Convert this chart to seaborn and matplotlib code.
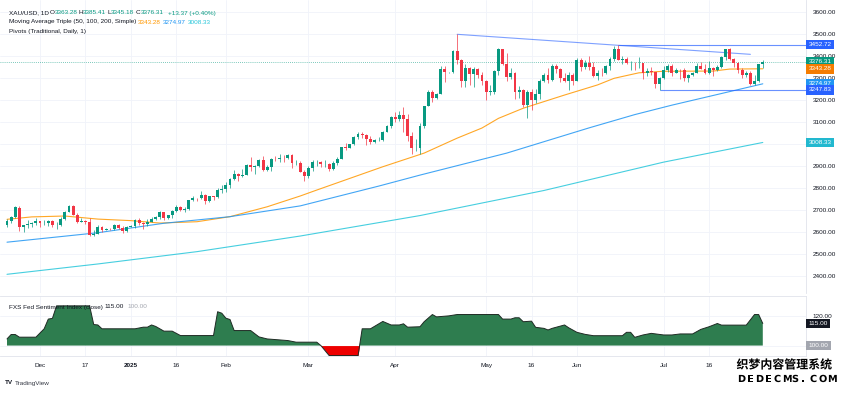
"""XAU/USD daily candles with MA triple, pivots and FXS Fed sentiment panel."""

import numpy as np
import pandas as pd
import matplotlib
matplotlib.use("Agg")
import matplotlib.pyplot as plt
import matplotlib.transforms as mtransforms
import matplotlib.patheffects as pe
import seaborn as sns

sns.set_theme(style="white")
plt.rcParams["font.family"] = ["Liberation Sans", "DejaVu Sans"]

GREEN = "#089981"
RED = "#f23645"
DARK = "#131722"
GRID = "#f0f3fa"
EDGE = "#e0e3eb"
C_MA50 = "#ff9800"
C_MA100 = "#2196f3"
C_MA200 = "#26c6da"
C_PIV = "#2962ff"

# ---- data ---------------------------------------------------------------
dates = pd.bdate_range("2024-11-20", "2025-08-04")

opens = [
    2631, 2650, 2670, 2712, 2625, 2632, 2637, 2640, 2650, 2640,
    2643, 2650, 2632, 2633, 2660, 2694, 2718, 2680, 2648, 2652,
    2646, 2587, 2594, 2622, 2612, 2617, 2614, 2634, 2621, 2606,
    2625, 2628, 2658, 2640, 2636, 2649, 2662, 2670, 2690, 2663,
    2677, 2697, 2714, 2703, 2708, 2745, 2755, 2754, 2770, 2741,
    2763, 2760, 2794, 2798, 2815, 2842, 2867, 2856, 2861, 2908,
    2898, 2903, 2928, 2882, 2898, 2935, 2933, 2939, 2936, 2952,
    2915, 2916, 2875, 2857, 2893, 2918, 2920, 2910, 2910, 2888,
    2916, 2934, 2988, 2984, 3001, 3034, 3048, 3044, 3022, 3011,
    3019, 3019, 3057, 3085, 3123, 3113, 3133, 3114, 3037, 2982,
    2983, 3082, 3175, 3237, 3210, 3229, 3343, 3327, 3327, 3424,
    3381, 3288, 3349, 3318, 3343, 3316, 3289, 3239, 3240, 3333,
    3431, 3365, 3306, 3325, 3236, 3248, 3178, 3240, 3202, 3230,
    3290, 3314, 3294, 3357, 3342, 3300, 3287, 3317, 3289, 3381,
    3353, 3371, 3352, 3310, 3325, 3322, 3355, 3386, 3432, 3384,
    3388, 3369, 3369, 3368, 3369, 3322, 3332, 3327, 3274, 3303,
    3338, 3357, 3326, 3337, 3336, 3301, 3313, 3325, 3355, 3343,
    3324, 3347, 3338, 3350, 3397, 3431, 3387, 3368, 3337, 3314,
    3326, 3274, 3289, 3363.28,
]
highs = [
    2660, 2674, 2721, 2721, 2633, 2657, 2647, 2665, 2651, 2658,
    2657, 2656, 2645, 2668, 2696, 2726, 2725, 2686, 2664, 2655,
    2664, 2611, 2631, 2630, 2621, 2620, 2638, 2637, 2630, 2628,
    2632, 2660, 2665, 2649, 2660, 2670, 2676, 2697, 2692, 2680,
    2700, 2725, 2721, 2713, 2746, 2763, 2757, 2786, 2772, 2765,
    2767, 2800, 2817, 2830, 2845, 2882, 2870, 2887, 2911, 2942,
    2905, 2935, 2945, 2905, 2938, 2947, 2955, 2950, 2956, 2956,
    2930, 2922, 2883, 2900, 2929, 2930, 2926, 2930, 2915, 2924,
    2940, 2990, 3005, 3003, 3038, 3056, 3057, 3047, 3036, 3025,
    3031, 3060, 3087, 3128, 3149, 3150, 3168, 3136, 3055, 3022,
    3099, 3176, 3245, 3245, 3232, 3357, 3357, 3330, 3430, 3500,
    3386, 3367, 3352, 3350, 3347, 3328, 3291, 3269, 3337, 3437,
    3434, 3415, 3346, 3328, 3265, 3252, 3245, 3253, 3250, 3295,
    3325, 3345, 3366, 3365, 3347, 3325, 3330, 3325, 3392, 3393,
    3384, 3403, 3376, 3340, 3349, 3360, 3398, 3446, 3452.72, 3403,
    3398, 3379, 3375, 3398, 3370, 3347, 3350, 3328, 3308, 3358,
    3365, 3366, 3345, 3343, 3345, 3318, 3330, 3369, 3375, 3366,
    3377, 3352, 3361, 3402, 3433, 3439, 3393, 3373, 3345, 3334,
    3334, 3315, 3364, 3385.41,
]
lows = [
    2625, 2640, 2664, 2605, 2602, 2620, 2625, 2634, 2622, 2632,
    2630, 2625, 2614, 2630, 2656, 2690, 2677, 2643, 2645, 2636,
    2583, 2583, 2590, 2602, 2609, 2612, 2612, 2614, 2597, 2603,
    2622, 2620, 2635, 2615, 2630, 2645, 2657, 2660, 2656, 2660,
    2667, 2692, 2697, 2692, 2700, 2742, 2740, 2750, 2730, 2738,
    2745, 2755, 2778, 2781, 2802, 2838, 2834, 2852, 2860, 2880,
    2864, 2898, 2880, 2880, 2880, 2922, 2921, 2918, 2931, 2890,
    2905, 2872, 2833, 2845, 2880, 2902, 2895, 2895, 2880, 2881,
    2905, 2931, 2973, 2982, 2997, 3023, 3027, 2999, 3001, 3005,
    3013, 3014, 3055, 3076, 3100, 3104, 3054, 3015, 2956, 2970,
    2957, 3072, 3174, 3194, 3205, 3228, 3283, 3323, 3325, 3366,
    3260, 3261, 3268, 3260, 3300, 3268, 3202, 3222, 3230, 3317,
    3360, 3288, 3298, 3207, 3210, 3170, 3120, 3154, 3188, 3205,
    3284, 3280, 3287, 3325, 3285, 3281, 3245, 3271, 3287, 3334,
    3343, 3337, 3306, 3294, 3310, 3318, 3340, 3380, 3383, 3366,
    3363, 3340, 3340, 3348, 3295, 3312, 3317, 3255, 3247.83, 3297,
    3327, 3311, 3322, 3297, 3287, 3282, 3310, 3323, 3341, 3320,
    3319, 3310, 3333, 3345, 3383, 3381, 3351, 3325, 3301, 3308,
    3268, 3268, 3281, 3345.18,
]
closes = [
    2650, 2670, 2715, 2625, 2632, 2637, 2640, 2650, 2640, 2643,
    2650, 2632, 2633, 2660, 2694, 2718, 2680, 2648, 2652, 2646,
    2587, 2594, 2622, 2612, 2617, 2614, 2634, 2621, 2606, 2625,
    2628, 2658, 2640, 2636, 2649, 2662, 2670, 2690, 2663, 2677,
    2697, 2714, 2703, 2708, 2745, 2755, 2754, 2770, 2741, 2763,
    2760, 2794, 2798, 2815, 2842, 2867, 2856, 2861, 2908, 2898,
    2903, 2928, 2882, 2898, 2935, 2933, 2939, 2936, 2952, 2915,
    2916, 2875, 2857, 2893, 2918, 2920, 2910, 2910, 2888, 2916,
    2934, 2988, 2984, 3001, 3034, 3048, 3044, 3022, 3011, 3019,
    3019, 3057, 3085, 3123, 3113, 3133, 3114, 3037, 2982, 2983,
    3082, 3175, 3237, 3210, 3229, 3343, 3327, 3327, 3424, 3381,
    3288, 3349, 3318, 3343, 3316, 3289, 3239, 3240, 3333, 3431,
    3365, 3306, 3325, 3236, 3248, 3178, 3240, 3202, 3230, 3290,
    3314, 3294, 3357, 3342, 3300, 3287, 3317, 3289, 3381, 3353,
    3371, 3352, 3310, 3325, 3322, 3355, 3386, 3432, 3384, 3388,
    3369, 3369, 3368, 3369, 3322, 3332, 3327, 3274, 3303, 3338,
    3357, 3326, 3337, 3336, 3301, 3313, 3325, 3355, 3343, 3324,
    3347, 3338, 3350, 3397, 3431, 3387, 3368, 3337, 3314, 3326,
    3274, 3289, 3363, 3376.31,
]

ma50_dates = ["2024-11-20", "2024-11-28", "2024-12-10", "2024-12-20", "2025-01-01",
              "2025-01-10", "2025-01-23", "2025-02-04", "2025-02-17", "2025-02-27",
              "2025-03-05", "2025-03-17", "2025-03-27", "2025-04-10", "2025-04-22",
              "2025-04-30", "2025-05-06", "2025-05-14", "2025-05-28", "2025-06-09",
              "2025-06-13", "2025-06-23", "2025-07-01", "2025-07-17", "2025-07-23",
              "2025-08-04"]
ma50_vals = [2659, 2670, 2674, 2660, 2653, 2642, 2648, 2671, 2716, 2765,
             2792, 2845, 2898, 2960, 3028, 3074, 3118, 3164, 3224, 3270,
             3300, 3325, 3332, 3333, 3342, 3343.28]

ma100_dates = ["2024-11-20", "2024-12-20", "2025-01-13", "2025-02-04", "2025-02-27",
               "2025-03-26", "2025-04-09", "2025-05-08", "2025-06-05", "2025-06-20",
               "2025-07-03", "2025-08-04"]
ma100_vals = [2555, 2598, 2641, 2671, 2720, 2810, 2860, 2960, 3075, 3135, 3178, 3274.97]

ma200_dates = ["2024-11-20", "2024-12-20", "2025-01-23", "2025-02-27", "2025-04-09",
               "2025-05-21", "2025-07-01", "2025-08-04"]
ma200_vals = [2409, 2456, 2512, 2583, 2676, 2790, 2919, 3008.33]

trend_dates = ["2025-04-22", "2025-07-30"]
trend_vals = [3500, 3409]
pivot_hi = 3452.72
pivot_hi_from = "2025-06-16"
pivot_lo = 3247.83
pivot_lo_from = "2025-06-30"
last_close = 3376.31

fed_dates = ["2024-11-20", "2024-11-21", "2024-11-22", "2024-11-25", "2024-11-29",
             "2024-12-03", "2024-12-04", "2024-12-05", "2024-12-06", "2024-12-18",
             "2024-12-19", "2024-12-20", "2024-12-23", "2025-01-02", "2025-01-06",
             "2025-01-07", "2025-01-08", "2025-01-09", "2025-01-13", "2025-01-15",
             "2025-01-17", "2025-01-29", "2025-01-30", "2025-01-31", "2025-02-03",
             "2025-02-04", "2025-02-05", "2025-02-11", "2025-02-13", "2025-02-17",
             "2025-02-24", "2025-02-26", "2025-03-05", "2025-03-06", "2025-03-10",
             "2025-03-19", "2025-03-20", "2025-03-24", "2025-03-27", "2025-03-31",
             "2025-04-02", "2025-04-03", "2025-04-04", "2025-04-09", "2025-04-10",
             "2025-04-14", "2025-04-15", "2025-04-18", "2025-04-22", "2025-05-06",
             "2025-05-07", "2025-05-09", "2025-05-12", "2025-05-13", "2025-05-14",
             "2025-05-16", "2025-05-19", "2025-05-21", "2025-05-22", "2025-05-23",
             "2025-05-28", "2025-05-29", "2025-06-02", "2025-06-04", "2025-06-06",
             "2025-06-17", "2025-06-18", "2025-06-19", "2025-06-20", "2025-06-24",
             "2025-06-26", "2025-07-01", "2025-07-03", "2025-07-07", "2025-07-10",
             "2025-07-14", "2025-07-16", "2025-07-18", "2025-07-21", "2025-07-29",
             "2025-07-31", "2025-08-01", "2025-08-04"]
fed_vals = [104.5, 107.5, 107.5, 105.7, 105.7,
            111.4, 118.0, 118.5, 127.0, 127.0,
            114.3, 114.0, 111.4, 111.4, 112.5,
            112.5, 114.0, 113.0, 109.8, 109.8,
            106.8, 106.8, 123.0, 122.0, 118.6,
            117.7, 110.2, 110.2, 105.9, 104.5,
            103.4, 102.3, 102.3, 100.0, 93.2,
            93.2, 111.4, 111.4, 116.4, 114.0,
            114.0, 114.8, 112.5, 112.8, 116.2,
            121.1, 119.5, 120.2, 121.1, 121.1,
            118.0, 118.0, 118.9, 118.9, 116.2,
            116.6, 112.4, 111.7, 110.6, 111.7,
            114.0, 112.1, 109.0, 107.6, 106.7,
            106.7, 109.0, 109.0, 105.6, 107.2,
            108.3, 107.2, 107.2, 107.9, 107.9,
            111.0, 112.8, 115.0, 113.9, 113.9,
            121.1, 121.1, 115.0]

tick_dates = ["2024-12-02", "2024-12-17", "2025-01-01", "2025-01-16", "2025-02-03",
              "2025-03-03", "2025-04-01", "2025-05-01", "2025-05-16", "2025-06-02",
              "2025-07-01", "2025-07-16"]
tick_labels = ["Dec", "17", "2025", "16", "Feb", "Mar", "Apr", "May", "16", "Jun", "Jul", "16"]
price_ticks = [2400, 2500, 2600, 2700, 2800, 2900, 3000, 3100, 3200, 3300, 3400, 3500, 3600]
hidden_ticks = [3000]   # covered by the MA200 price tag


def pos(ds):
    return np.array([dates.get_loc(pd.Timestamp(d)) for d in ds])


# ---- figure -------------------------------------------------------------
W, H = 844, 393
fig = plt.figure(figsize=(W / 100, H / 100), dpi=100)
fig.patch.set_facecolor("white")
ax = fig.add_axes([0, 1 - 293 / H, 806 / W, 293 / H])
axl = fig.add_axes([0, 1 - 356 / H, 806 / W, 60 / H], sharex=ax)

xs = np.arange(len(dates))
o, hi, lo, c = map(np.array, (opens, highs, lows, closes))
cols = np.where(c >= o, GREEN, RED)

ax.vlines(xs, lo, hi, colors=cols, lw=0.5, zorder=3)
body = np.where(np.abs(c - o) < 2, 2, c - o)
ax.bar(xs, body, bottom=o, width=0.7, color=cols, lw=0, zorder=4)

sns.lineplot(x=pos(ma50_dates), y=ma50_vals, ax=ax, color=C_MA50, lw=0.8, alpha=0.85, zorder=2)
sns.lineplot(x=pos(ma100_dates), y=ma100_vals, ax=ax, color=C_MA100, lw=0.8, alpha=0.85, zorder=2)
sns.lineplot(x=pos(ma200_dates), y=ma200_vals, ax=ax, color=C_MA200, lw=0.8, alpha=0.85, zorder=2)

ax.plot(pos(trend_dates), trend_vals, color=C_PIV, lw=0.8, alpha=0.6, zorder=2)
ax.hlines(pivot_hi, pos([pivot_hi_from])[0], 300, color=C_PIV, lw=0.8, alpha=0.7, zorder=2)
ax.hlines(pivot_lo, pos([pivot_lo_from])[0], 300, color=C_PIV, lw=0.8, alpha=0.7, zorder=2)
ax.axhline(last_close, color=GREEN, lw=0.6, ls=(0, (1, 1.5)), alpha=0.7, zorder=1)

x0, x1 = -7 / 4.13, (806 - 7) / 4.13
ax.set_xlim(x0, x1)
ax.set_ylim(2324, 3656)
ax.set_yticks(price_ticks)
ax.yaxis.tick_right()
ax.set_yticklabels(["" if t in hidden_ticks else f"{t:.2f}" for t in price_ticks])
ax.tick_params(axis="y", length=0, pad=5, labelsize=4.6, labelcolor=DARK)
ax.tick_params(axis="x", length=0, labelbottom=False)
ax.set_xticks(pos(tick_dates))
ax.grid(True, color=GRID, lw=0.6)
for s in ("top", "left", "bottom"):
    ax.spines[s].set_visible(False)
ax.spines["right"].set_color(EDGE)
ax.spines["right"].set_linewidth(0.6)
ax.set_xlabel("")
ax.set_ylabel("")

tr = mtransforms.blended_transform_factory(ax.transAxes, ax.transData)


def tag(a, trans, y, text, fc, tc="white"):
    a.text(1.003, y, text, transform=trans, ha="left", va="center", fontsize=4.6,
           color=tc, zorder=10, clip_on=False,
           bbox=dict(boxstyle="square,pad=0.35", fc=fc, ec="none"))


tag(ax, tr, pivot_hi, f"{pivot_hi:.2f}", C_PIV)
tag(ax, tr, last_close, f"{last_close:.2f}", GREEN)
tag(ax, tr, ma50_vals[-1], f"{ma50_vals[-1]:.2f}", "#f57c00")
tag(ax, tr, ma100_vals[-1], f"{ma100_vals[-1]:.2f}", C_MA100)
tag(ax, tr, pivot_lo, f"{pivot_lo:.2f}", C_PIV)
tag(ax, tr, ma200_vals[-1], f"{ma200_vals[-1]:.2f}", "#22b8cf")

# ---- sentiment panel ----------------------------------------------------
fx = pos(fed_dates)
fv = np.array(fed_vals)
axl.fill_between(fx, fv, 100, where=fv >= 100, interpolate=True, color="#2e7d4f", lw=0, zorder=2)
axl.fill_between(fx, fv, 100, where=fv < 100, interpolate=True, color="#ee0000", lw=0, zorder=2)
sns.lineplot(x=fx, y=fv, ax=axl, color="#1f2a24", lw=0.7, zorder=3)
axl.set_ylim(92.9, 133.7)
axl.set_yticks([100, 120])
axl.yaxis.tick_right()
axl.set_yticklabels(["", "120.00"])
axl.tick_params(axis="y", length=0, pad=5, labelsize=4.6, labelcolor=DARK)
axl.set_xticks(pos(tick_dates))
axl.set_xticklabels(tick_labels)
axl.tick_params(axis="x", length=0, pad=5, labelsize=4.6, labelcolor=DARK)
for lab in axl.get_xticklabels():
    if lab.get_text() == "2025":
        lab.set_fontweight("bold")
axl.grid(True, color=GRID, lw=0.6)
axl.spines["left"].set_visible(False)
for s in ("top", "right", "bottom"):
    axl.spines[s].set_color(EDGE)
    axl.spines[s].set_linewidth(0.6)
axl.set_xlabel("")
axl.set_ylabel("")
trl = mtransforms.blended_transform_factory(axl.transAxes, axl.transData)
tag(axl, trl, fed_vals[-1], f"{fed_vals[-1]:.2f}", DARK)
tag(axl, trl, 100, "100.00", "#a3a6af")


# ---- header texts -------------------------------------------------------
def ftext(px, py, s, color=DARK, **kw):
    fig.text(px / W, 1 - py / H, s, color=color, fontsize=4.6, ha="left", va="center", **kw)


ftext(9, 13, "XAU/USD, 1D")
for letter, val, px, gap in (("O", "3363.28", 49.5, 5.2), ("H", "3385.41", 78.5, 4.8),
                             ("L", "3345.18", 107, 3.9), ("C", "3376.31", 136, 4.8)):
    ftext(px, 13, letter)
    ftext(px + gap, 13, val, GREEN)
ftext(168, 13, "+13.37 (+0.40%)", GREEN)
ftext(9, 22, "Moving Average Triple (50, 100, 200, Simple)")
ftext(138, 22, f"{ma50_vals[-1]:.2f}", C_MA50)
ftext(163, 22, f"{ma100_vals[-1]:.2f}", C_MA100)
ftext(188, 22, f"{ma200_vals[-1]:.2f}", C_MA200)
ftext(9, 31, "Pivots (Traditional, Daily, 1)")
ftext(9, 307, "FXS Fed Sentiment Index (close)")
ftext(104, 307, f"{fed_vals[-1]:.2f}")
ftext(127, 307, "100.00", "#a3a6af")

ftext(5, 383, "TV", DARK, fontweight="bold")
ftext(15, 383, "TradingView", "#363a45")

# watermark
fig.text(784 / W, 1 - 365 / H, "织梦内容管理系统", family=["Noto Sans CJK SC"],
         fontsize=8.6, fontweight="bold", color="black", ha="center", va="center",
         path_effects=[pe.withStroke(linewidth=1.5, foreground="white")])
for i, ch in enumerate("DEDECMS.COM"):
    fig.text((738 + i * 9.0) / W, 1 - 379 / H, ch, family=["DejaVu Sans"],
             fontsize=7, fontweight="bold", color="black", ha="left", va="center",
             path_effects=[pe.withStroke(linewidth=1.5, foreground="white")])

fig.savefig("out.png", dpi=100)
